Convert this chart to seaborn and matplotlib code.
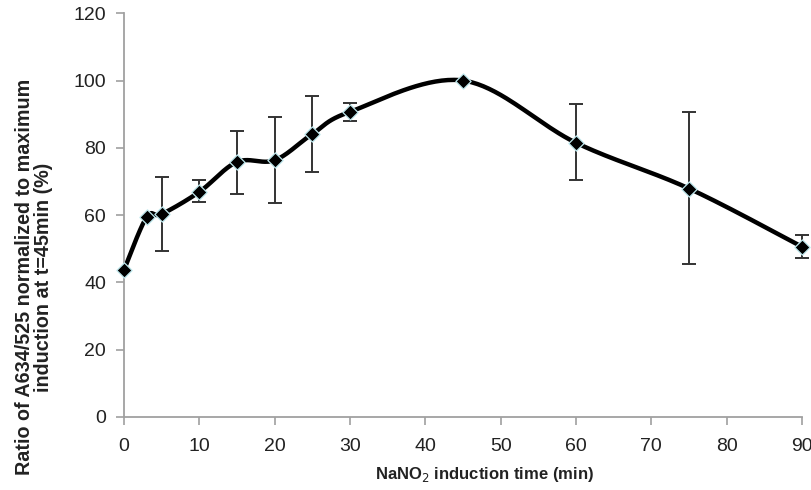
import numpy as np
import pandas as pd
import matplotlib
matplotlib.use("Agg")
import matplotlib.pyplot as plt
import seaborn as sns

# ---- data ----
time_min = [0, 3, 5, 10, 15, 20, 25, 30, 45, 60, 75, 90]
ratio_pct = [43.7, 59.4, 60.3, 66.9, 75.8, 76.3, 84.1, 90.7, 100.0, 81.5, 67.9, 50.6]
err_low = [0, 0, 10.9, 3.1, 9.4, 12.7, 11.2, 2.6, 0, 11.1, 22.3, 3.3]
err_high = [0, 0, 11.1, 3.4, 9.3, 12.8, 11.2, 2.6, 0, 11.5, 22.7, 3.5]
x_ticks = [0, 10, 20, 30, 40, 50, 60, 70, 80, 90]
y_ticks = [0, 20, 40, 60, 80, 100, 120]

sns.set_theme(style="white")
plt.rcParams['font.family'] = ['Liberation Sans', 'DejaVu Sans']

fig = plt.figure(figsize=(8.12, 4.90), dpi=100)
ax = fig.add_axes([0.1527, 0.149, 0.835, 0.824])
ax.set_xlim(0, 90)
ax.set_ylim(0, 120)

# Excel-like smoothed line (Catmull-Rom in screen-scaled space)
sx, sy = 678 / 90.0, 404 / 120.0
P = np.column_stack([np.array(time_min) * sx, np.array(ratio_pct) * sy])
n = len(P)
curve = []
for i in range(n - 1):
    p0 = P[i - 1] if i > 0 else P[i]
    p1, p2 = P[i], P[i + 1]
    p3 = P[i + 2] if i + 2 < n else P[i + 1]
    c1 = p1 + (p2 - p0) / 6.0
    c2 = p2 - (p3 - p1) / 6.0
    t = np.linspace(0, 1, 40)[:, None]
    seg = ((1 - t) ** 3) * p1 + 3 * ((1 - t) ** 2) * t * c1 + 3 * (1 - t) * t ** 2 * c2 + t ** 3 * p2
    curve.append(seg if i == 0 else seg[1:])
curve = np.vstack(curve)
df_curve = pd.DataFrame({"x": curve[:, 0] / sx, "y": curve[:, 1] / sy,
                         "order": np.arange(len(curve))})
sns.lineplot(data=df_curve, x="x", y="y", sort=False, estimator=None,
             color="black", linewidth=3.2, ax=ax, zorder=2)

# error bars
yerr = np.array([err_low, err_high])
mask = (yerr.sum(axis=0) > 0)
ax.errorbar(np.array(time_min)[mask], np.array(ratio_pct)[mask], yerr=yerr[:, mask],
            fmt="none", ecolor="#333333", elinewidth=1.4, capsize=5, capthick=1.4, zorder=3,
            clip_on=False)

# markers
df_pts = pd.DataFrame({"t": time_min, "r": ratio_pct})
sns.scatterplot(data=df_pts, x="t", y="r", marker="D", s=60, color="black",
                edgecolor="#bfe8ee", linewidth=0.9, ax=ax, zorder=4, clip_on=False)

ax.set_xticks(x_ticks)
ax.set_yticks(y_ticks)
ax.tick_params(axis="both", direction="out", length=6, width=1.2, color="#a0a0a0",
               labelsize=14, labelcolor="#222222", bottom=True, left=True)
ax.tick_params(axis="y", pad=7)
ax.tick_params(axis="x", pad=9)
for s in ["top", "right"]:
    ax.spines[s].set_visible(False)
for s in ["left", "bottom"]:
    ax.spines[s].set_color("#a0a0a0")
    ax.spines[s].set_linewidth(1.3)

ax.set_xlabel("NaNO$_2$ induction time (min)", fontsize=12, fontweight="bold",
              color="#222222")
ax.xaxis.set_label_coords(0.531, -0.118)
ax.set_ylabel("Ratio of A634/525 normalized to maximum\ninduction at t=45min (%)",
              fontsize=14.2, fontweight="bold", color="#222222", linespacing=1.0)
ax.yaxis.set_label_coords(-0.104, 0.347)

fig.savefig("out.png", dpi=100)
